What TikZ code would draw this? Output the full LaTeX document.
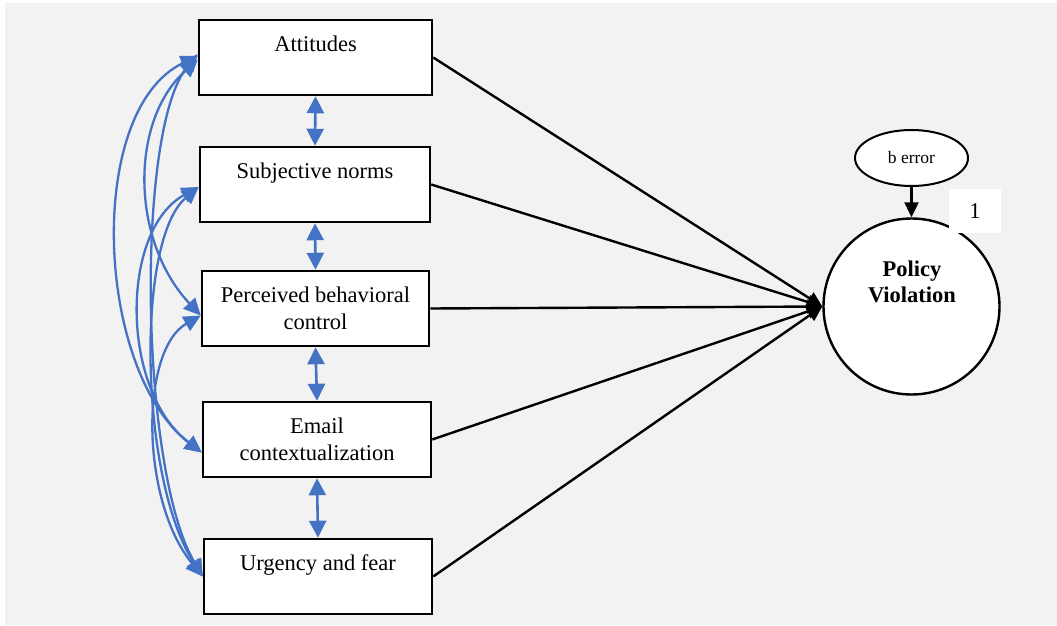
\documentclass[tikz,border=0pt]{standalone}
\usepackage{fontspec}
\setmainfont{Liberation Serif}
\usetikzlibrary{arrows.meta,shapes.geometric}
\definecolor{bggray}{HTML}{F2F2F2}
\definecolor{corrblue}{HTML}{4472C4}
\tikzset{
  varbox/.style={draw=black, line width=2.5pt, fill=white, minimum height=75pt,
    inner sep=0pt, align=center, font=\fontsize{22.5}{27.5}\selectfont},
  regpath/.style={draw=black, line width=2.4pt, -{Triangle[length=15pt,width=14pt]}},
  adj/.style={draw=corrblue, line width=2.6pt,
    {Triangle[length=17pt,width=17pt]}-{Triangle[length=17pt,width=17pt]}},
  corr/.style={draw=corrblue, line width=2.3pt,
    {Triangle[length=17pt,width=16pt]}-{Triangle[length=17pt,width=16pt]}},
}
\begin{document}
\begin{tikzpicture}[x=1pt,y=-1pt]
\useasboundingbox (0,0) rectangle (1057,626);
\fill[bggray] (5,3) rectangle (1057,625);

% observed variables
\node[varbox, minimum width=233pt] (att) at (315.5,57.5) {Attitudes\\\mbox{}};
\node[varbox, minimum width=230pt] (sn)  at (315,184.5) {Subjective norms\\\mbox{}};
\node[varbox, minimum width=227pt] (pbc) at (315.5,308.5) {Perceived behavioral\\control};
\node[varbox, minimum width=228pt] (em)  at (317,439.5) {Email\\contextualization};
\node[varbox, minimum width=228pt] (urg) at (318,576.5) {Urgency and fear\\\mbox{}};

% latent outcome
\node[circle, draw=black, line width=2.4pt, fill=white, minimum size=176pt, inner sep=0pt] (pv) at (911.5,306.5) {};
\node[font=\fontsize{22.5}{26}\selectfont\bfseries, align=center] (pvtext) at (912,282) {Policy\\Violation};

% error term
\node[ellipse, draw=black, line width=2pt, fill=white, minimum width=113pt, minimum height=56pt,
  inner sep=0pt, font=\fontsize{17.5}{20}\selectfont] (err) at (911.5,158) {b error};
\draw[line width=2.2pt, -{Triangle[length=15pt,width=14pt]}] (err.south) -- (pv.north);
\node[fill=white, minimum width=52pt, minimum height=44pt, inner sep=0pt,
  font=\fontsize{22.5}{27}\selectfont] (one) at (975,211) {1};

% regression paths
\draw[regpath] (att.east) -- (pv.west);
\draw[regpath] (sn.east) -- (pv.west);
\draw[regpath] (pbc.east) -- (pv.west);
\draw[regpath] (em.east) -- (pv.west);
\draw[regpath] (urg.east) -- (pv.west);

% adjacent covariances
\draw[adj] (att.south) -- (sn.north);
\draw[adj] (sn.south) -- (pbc.north);
\draw[adj] (pbc.south) -- (em.north);
\draw[adj] (em.south) -- (urg.north);

% long-range covariances
\draw[corr] ([yshift=-2.5pt]att.west) .. controls (130,120) and (130,240) .. ([yshift=-7pt]pbc.west);
\draw[corr] ([yshift=1.5pt]att.west) .. controls (85,110) and (95,370) .. ([yshift=-13pt]em.west);
\draw[corr] ([yshift=3.5pt]att.west) .. controls (135,130) and (140,470) .. (urg.west);
\draw[corr] ([yshift=-2.5pt]sn.west) .. controls (120,230) and (120,390) .. ([yshift=-13pt]em.west);
\draw[corr] ([yshift=-2.5pt]sn.west) .. controls (135,240) and (140,480) .. (urg.west);
\draw[corr] ([yshift=-7pt]pbc.west) .. controls (140,350) and (140,500) .. (urg.west);
\end{tikzpicture}
\end{document}
